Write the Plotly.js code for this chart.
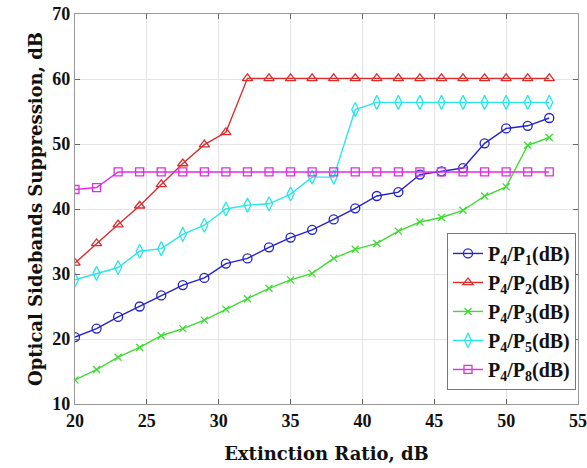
<!DOCTYPE html>
<html><head><meta charset="utf-8">
<script src="https://cdn.plot.ly/plotly-3.0.1.min.js"></script>
<style>html,body{margin:0;padding:0;background:#fff}#chart{width:587px;height:468px}</style>
</head><body><div id="chart"></div>
<script>
const extinctionRatio = [20,21.5,23,24.5,26,27.5,29,30.5,32,33.5,35,36.5,38,39.5,41,42.5,44,45.5,47,48.5,50,51.5,53];
const p4p1 = [20.3,21.6,23.4,25.0,26.7,28.3,29.4,31.6,32.4,34.1,35.6,36.8,38.4,40.1,42.0,42.6,45.3,45.8,46.3,50.1,52.4,52.8,54.0];
const p4p2 = [31.7,34.7,37.6,40.5,43.8,47.0,49.9,51.8,60.1,60.1,60.1,60.1,60.1,60.1,60.1,60.1,60.1,60.1,60.1,60.1,60.1,60.1,60.1];
const p4p3 = [13.7,15.3,17.2,18.7,20.5,21.6,22.9,24.6,26.2,27.8,29.1,30.1,32.4,33.8,34.7,36.6,38.0,38.7,39.8,42.0,43.4,49.8,51.0];
const p4p5 = [29.1,30.1,31.0,33.5,33.9,36.1,37.5,40.0,40.6,40.8,42.3,44.9,44.9,55.3,56.4,56.4,56.4,56.4,56.4,56.4,56.4,56.4,56.4];
const p4p8 = [43.0,43.3,45.7,45.7,45.7,45.7,45.7,45.7,45.7,45.7,45.7,45.7,45.7,45.7,45.7,45.7,45.7,45.7,45.7,45.7,45.7,45.7,45.7];
const seriesNames = ['P<sub>4</sub>/P<sub>1</sub>(dB)','P<sub>4</sub>/P<sub>2</sub>(dB)','P<sub>4</sub>/P<sub>3</sub>(dB)','P<sub>4</sub>/P<sub>5</sub>(dB)','P<sub>4</sub>/P<sub>8</sub>(dB)'];
const xTicks = [20,25,30,35,40,45,50,55];
const yTicks = [10,20,30,40,50,60,70];

const seriesData = [p4p1,p4p2,p4p3,p4p5,p4p8];
const colors = ['rgb(35,35,200)','rgb(220,45,45)','rgb(60,220,50)','rgb(40,230,235)','rgb(225,45,225)'];
const symbols = ['circle-open','triangle-up-open','x-thin-open','diamond-tall-open','square-open'];
const sizes = [9,9,7,10,8];

const traces = seriesData.map((y,i)=>({
  x: extinctionRatio, y: y, name: seriesNames[i], type:'scatter', mode:'lines+markers',
  line:{color:colors[i], width:1.4},
  marker:{symbol:symbols[i], size:sizes[i], color:colors[i], line:{color:colors[i], width:1.3}}
}));

const tickFont = {family:'Liberation Serif', size:18, color:'#111', weight:'bold'};
const axCommon = {showline:true, mirror:'ticks', linecolor:'#999', linewidth:1.2, ticks:'inside', ticklen:5, tickcolor:'#666',
  showgrid:true, gridcolor:'#e4e4e4', gridwidth:1, zeroline:false, tickfont:tickFont};

const layout = {
  width:587, height:468,
  margin:{l:75, r:9, t:14, b:64},
  paper_bgcolor:'#fff', plot_bgcolor:'#fff',
  showlegend:true,
  xaxis: Object.assign({}, axCommon, {range:[20,55], tickvals:xTicks, ticktext:xTicks.map(String),
    title:{text:'Extinction Ratio, dB', font:{family:'DejaVu Serif', size:18, color:'#111', weight:'bold'}, standoff:17}}),
  yaxis: Object.assign({}, axCommon, {range:[10,70], tickvals:yTicks, ticktext:yTicks.map(String),
    title:{text:'Optical Sidebands Suppression, dB', font:{family:'DejaVu Serif', size:18, color:'#111', weight:'bold'}, standoff:5}}),
  legend:{x:0.996, y:0.036, xanchor:'right', yanchor:'bottom', bgcolor:'#fff', bordercolor:'#777', borderwidth:1,
    font:{family:'Liberation Serif', size:20, color:'#111', weight:'bold'}, tracegroupgap:0, itemwidth:30}
};
Plotly.newPlot('chart', traces, layout, {displayModeBar:false, staticPlot:true});
</script></body></html>
